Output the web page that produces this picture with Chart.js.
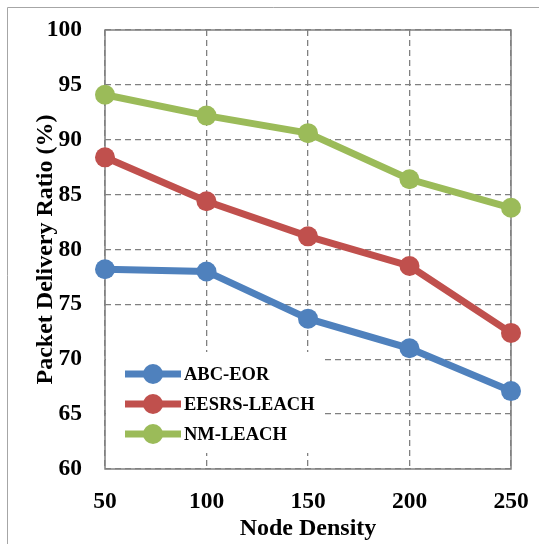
<!DOCTYPE html>
<html>
<head>
<meta charset="utf-8">
<script src="https://cdn.jsdelivr.net/npm/chart.js@4"></script>
<style>
  html, body { margin: 0; padding: 0; background: #fff; }
  #wrap { width: 539px; height: 544px; position: relative; }
</style>
</head>
<body>
<div id="wrap"><canvas id="pdr" width="539" height="544"></canvas></div>
<script>
// data
const nodeDensity = ['50', '100', '150', '200', '250'];
const abcEor = [78.2, 78.0, 73.7, 71.0, 67.1];
const eesrsLeach = [88.4, 84.4, 81.2, 78.5, 72.4];
const nmLeach = [94.1, 92.2, 90.6, 86.4, 83.8];

const serif = '"Liberation Serif", "Times New Roman", serif';
const gridGray = '#808080';

// frame, plot border, legend box and legend entries
const decorations = {
  id: 'decorations',
  beforeDatasetsDraw(chart) {
    const { ctx, chartArea } = chart;
    ctx.save();
    // white box behind the legend hides the grid lines
    ctx.fillStyle = '#fff';
    ctx.fillRect(chartArea.left + 1, 352, 325 - chartArea.left - 1, 101);
    // solid border round the plot
    ctx.strokeStyle = gridGray;
    ctx.lineWidth = 1.5;
    ctx.strokeRect(chartArea.left, chartArea.top, chartArea.right - chartArea.left, chartArea.bottom - chartArea.top);
    ctx.restore();
  },
  afterDraw(chart) {
    const { ctx } = chart;
    ctx.save();
    // outer picture frame
    ctx.strokeStyle = '#a6a6a6';
    ctx.lineWidth = 1;
    ctx.beginPath();
    ctx.moveTo(7.5, 544);
    ctx.lineTo(7.5, 7.5);
    ctx.lineTo(539, 7.5);
    ctx.stroke();

    // legend
    chart.data.datasets.forEach((ds, i) => {
      const y = 374 + i * 30;
      ctx.strokeStyle = ds.borderColor;
      ctx.lineWidth = 7;
      ctx.beginPath();
      ctx.moveTo(125, y);
      ctx.lineTo(181, y);
      ctx.stroke();
      ctx.fillStyle = ds.borderColor;
      ctx.beginPath();
      ctx.arc(153, y, 10, 0, Math.PI * 2);
      ctx.fill();
      ctx.fillStyle = '#000';
      ctx.font = 'bold 18.5px ' + serif;
      ctx.textBaseline = 'middle';
      ctx.fillText(ds.label, 184, y + 1);
    });
    ctx.restore();
  }
};

function series(label, values, color) {
  return {
    label: label,
    data: values,
    borderColor: color,
    backgroundColor: color,
    borderWidth: 7,
    pointRadius: 10,
    pointHoverRadius: 10,
    pointBorderWidth: 0,
    tension: 0
  };
}

new Chart(document.getElementById('pdr'), {
  type: 'line',
  data: {
    labels: nodeDensity,
    datasets: [
      series('ABC-EOR', abcEor, '#4F81BD'),
      series('EESRS-LEACH', eesrsLeach, '#C0504D'),
      series('NM-LEACH', nmLeach, '#9BBB59')
    ]
  },
  options: {
    responsive: false,
    animation: false,
    layout: { padding: { top: 30, right: 28, left: 0, bottom: 0 } },
    plugins: {
      legend: { display: false },
      tooltip: { enabled: false }
    },
    scales: {
      x: {
        type: 'category',
        offset: false,
        afterFit(scale) {
          scale.height = 75;
          scale.paddingLeft = 0;
          scale.paddingRight = 0;
        },
        grid: { color: gridGray, lineWidth: 1.3, drawTicks: false },
        border: { display: false, dash: [6, 4] },
        ticks: { color: '#000', padding: 19, font: { family: serif, size: 23.5, weight: 'bold' } },
        title: {
          display: true,
          text: 'Node Density',
          color: '#000',
          padding: { top: 0, bottom: 1 },
          font: { family: serif, size: 24, weight: 'bold' }
        }
      },
      y: {
        min: 60,
        max: 100,
        afterFit(scale) {
          scale.width = 105;
          scale.paddingTop = 0;
          scale.paddingBottom = 0;
        },
        grid: { color: gridGray, lineWidth: 1.3, drawTicks: false },
        border: { display: false, dash: [6, 4] },
        ticks: { stepSize: 5, color: '#000', padding: 23, font: { family: serif, size: 23.5, weight: 'bold' } },
        title: {
          display: true,
          text: 'Packet Delivery Ratio (%)',
          color: '#000',
          padding: { top: 31, bottom: 0 },
          font: { family: serif, size: 24, weight: 'bold' }
        }
      }
    }
  },
  plugins: [decorations]
});
</script>
</body>
</html>
